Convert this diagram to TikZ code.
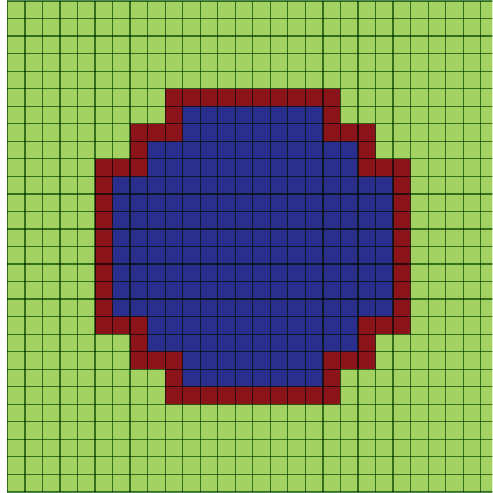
\documentclass[tikz,border=0pt]{standalone}
\usepackage{tikz}
\definecolor{fieldgreen}{RGB}{164,210,98}
\definecolor{rimred}{RGB}{138,20,26}
\definecolor{coreblue}{RGB}{42,46,140}
\definecolor{linetone}{RGB}{80,135,78}
\begin{document}
\begin{tikzpicture}[
    field/.style={fill=fieldgreen},
    rim/.style={fill=rimred},
    core/.style={fill=coreblue},
    gridline/.style={draw=linetone, line width=2pt},
]
    % frame of the picture, last column is cut off
    \useasboundingbox (-0.42,-0.06) rectangle (27.66,28.06);
    \clip (-0.42,-0.06) rectangle (27.66,28.06);
    \fill[white] (-0.42,-0.06) rectangle (27.66,28.06);
    \fill[field] (0,0) rectangle (28,28);

    % outer ring of cells
    \fill[rim] (9,23) -- (19,23) -- (19,21) -- (21,21) -- (21,19) -- (23,19)
        -- (23,9) -- (21,9) -- (21,7) -- (19,7) -- (19,5) -- (9,5) -- (9,7)
        -- (7,7) -- (7,9) -- (5,9) -- (5,19) -- (7,19) -- (7,21) -- (9,21) -- cycle;
    % inner cells
    \fill[core] (10,22) -- (18,22) -- (18,20) -- (20,20) -- (20,18) -- (22,18)
        -- (22,10) -- (20,10) -- (20,8) -- (18,8) -- (18,6) -- (10,6) -- (10,8)
        -- (8,8) -- (8,10) -- (6,10) -- (6,18) -- (8,18) -- (8,20) -- (10,20) -- cycle;

    \begin{scope}[blend mode=multiply]
        \foreach \k in {0,...,28} {
            \draw[gridline] (\k,0) -- (\k,28);
            \draw[gridline] (0,\k) -- (28,\k);
        }
    \end{scope}
\end{tikzpicture}
\end{document}
